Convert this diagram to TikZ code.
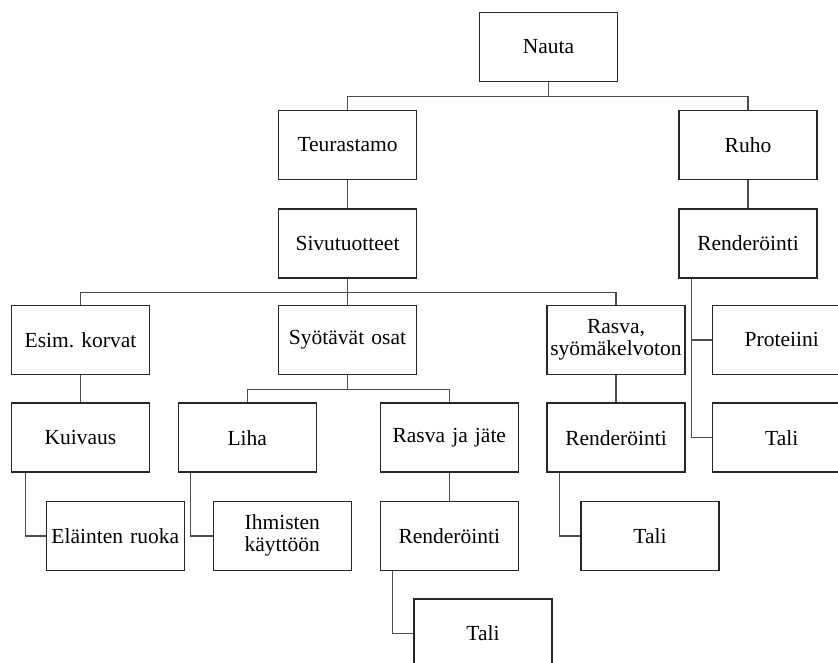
\documentclass[tikz,border=0pt]{standalone}
\usepackage{fontspec}
\setmainfont{Liberation Serif}
\frenchspacing
\begin{document}
\begin{tikzpicture}[x=1pt,y=-1pt,
  box/.style={draw=black!85, line width=1.5pt, minimum width=138pt, minimum height=69pt,
    text width=136pt, inner sep=0pt, align=center, font=\fontsize{21.5}{22}\selectfont},
  link/.style={draw=black!70, line width=1.5pt}]
\useasboundingbox (0,0) rectangle (838,663);
\node[box] (nauta)  at (548.5,46.8) {Nauta};
\node[box] (teur)   at (347.5,145)  {Teurastamo};
\node[box] (ruho)   at (748,145)    {Ruho};
\node[box] (sivu)   at (347.5,243.3) {Sivutuotteet};
\node[box] (rend1)  at (748,243.3)  {Renderöinti};
\node[box] (esim)   at (80.5,339.8) {Esim.\ korvat};
\node[box] (syot)   at (347.5,339.8) {Syötävät osat};
\node[box] (rasvas) at (616,339.8)  {Rasva,\\syömäkelvoton};
\node[box] (prot)   at (781.7,339.8) {Proteiini};
\node[box] (kuiv)   at (80.5,437.7) {Kuivaus};
\node[box] (liha)   at (247.3,437.7) {Liha};
\node[box] (rasvaj) at (449.3,437.7) {Rasva ja jäte};
\node[box] (rend2)  at (616,437.7)  {Renderöinti};
\node[box] (tali1)  at (781.7,437.7) {Tali};
\node[box] (elain)  at (115.3,535.8) {Eläinten ruoka};
\node[box] (ihm)    at (282.3,535.8) {Ihmisten\\käyttöön};
\node[box] (rend3)  at (449.3,535.8) {Renderöinti};
\node[box] (tali2)  at (650,535.8)  {Tali};
\node[box] (tali3)  at (483,633.5)  {Tali};
% connectors
\draw[link] (nauta.south) -- ++(0,14.7) coordinate (j1);
\draw[link] (j1) -| (teur.north);
\draw[link] (j1) -| (ruho.north);
\draw[link] (teur.south) -- (sivu.north);
\draw[link] (ruho.south) -- (rend1.north);
\draw[link] (sivu.south) -- ++(0,14) coordinate (j2);
\draw[link] (j2) -| (esim.north);
\draw[link] (j2) -- (syot.north);
\draw[link] (j2) -| (rasvas.north);
\draw[link] ([xshift=13.3pt]rend1.south west) |- (prot.west);
\draw[link] ([xshift=13.3pt]rend1.south west) |- (tali1.west);
\draw[link] (esim.south) -- (kuiv.north);
\draw[link] (syot.south) -- ++(0,14.5) coordinate (j3);
\draw[link] (j3) -| (liha.north);
\draw[link] (j3) -| (rasvaj.north);
\draw[link] (rasvas.south) -- (rend2.north);
\draw[link] ([xshift=14.6pt]kuiv.south west) |- (elain.west);
\draw[link] ([xshift=13pt]liha.south west) |- (ihm.west);
\draw[link] (rasvaj.south) -- (rend3.north);
\draw[link] ([xshift=13.3pt]rend2.south west) |- (tali2.west);
\draw[link] ([xshift=13pt]rend3.south west) |- (tali3.west);
\end{tikzpicture}
\end{document}
